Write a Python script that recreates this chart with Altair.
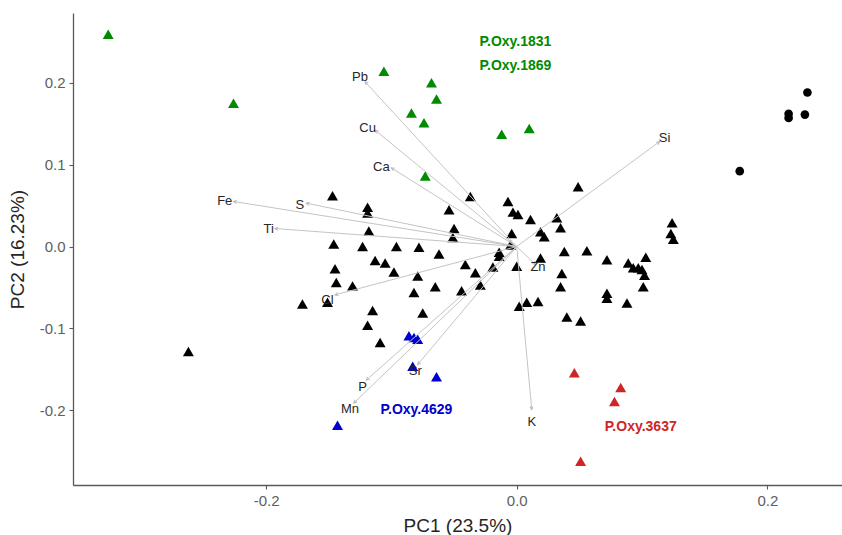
import altair as alt
import pandas as pd

# ---- sample scores (PC1, PC2) ----
black_tri_x = [-0.262, -0.171, -0.151, -0.147, -0.119, -0.119, -0.118, -0.146, -0.123, -0.113,
               -0.105, -0.145, -0.144, -0.131, -0.115, -0.098, -0.079, -0.082, -0.065, -0.044,
               -0.029, -0.075, -0.119, -0.109, -0.041, -0.033, -0.019, 0.000, 0.019, 0.036,
               0.035, 0.002, 0.008, 0.017, 0.040, 0.051, -0.037, -0.054, -0.050, -0.051,
               -0.096, -0.078, -0.062, -0.007, -0.003, 0.001, 0.011, -0.004, -0.014, -0.014,
               0.019, 0.022, 0.032, 0.035, 0.049, 0.038, 0.056, 0.072, 0.124, 0.123,
               0.125, 0.089, 0.093, 0.097, 0.100, 0.103, 0.102, 0.101, 0.072, 0.072,
               0.088, -0.005]
black_tri_y = [-0.128, -0.070, -0.068, 0.062, 0.048, 0.041, 0.019, 0.003, 0.000, -0.017,
               -0.020, -0.027, -0.044, -0.048, -0.078, -0.031, -0.036, -0.056, -0.049, -0.054,
               -0.047, -0.081, -0.096, -0.117, -0.022, -0.032, -0.025, -0.024, -0.014, -0.033,
               -0.049, -0.073, -0.068, -0.067, -0.086, -0.091, 0.061, 0.045, 0.022, 0.011,
               0.000, -0.001, -0.009, 0.055, 0.042, 0.039, 0.033, 0.016, -0.007, -0.012,
               0.018, 0.012, 0.035, 0.023, 0.073, -0.006, -0.005, -0.016, 0.029, 0.016,
               0.009, -0.020, -0.026, -0.026, -0.028, -0.013, -0.035, -0.049, -0.057, -0.063,
               -0.069, 0.002]

black_circ_x = [0.232, 0.217, 0.217, 0.230, 0.178]
black_circ_y = [0.188, 0.162, 0.157, 0.161, 0.092]

green_x = [-0.326, -0.226, -0.106, -0.068, -0.064, -0.084, -0.074, -0.012, 0.010, -0.073]
green_y = [0.259, 0.175, 0.214, 0.200, 0.180, 0.163, 0.151, 0.137, 0.144, 0.086]

red_x = [0.046, 0.083, 0.078, 0.051]
red_y = [-0.154, -0.172, -0.189, -0.262]

blue_x = [-0.086, -0.082, -0.079, -0.083, -0.064, -0.143]
blue_y = [-0.109, -0.111, -0.113, -0.146, -0.159, -0.218]

# ---- variable loadings (arrow tips) and their label positions ----
var_names = ["Pb", "Cu", "Ca", "Fe", "S", "Ti", "Cl", "P", "Mn", "Sr", "K", "Zn", "Si"]
var_x = [-0.121, -0.113, -0.100, -0.226, -0.168, -0.193, -0.145, -0.120, -0.130, -0.079, 0.012, 0.015, 0.114]
var_y = [0.201, 0.142, 0.096, 0.055, 0.053, 0.022, -0.059, -0.163, -0.191, -0.144, -0.199, -0.022, 0.128]
lab_x = [-0.125, -0.119, -0.108, -0.233, -0.173, -0.198, -0.151, -0.123, -0.133, -0.081, 0.012, 0.017, 0.118]
lab_y = [0.207, 0.145, 0.097, 0.055, 0.051, 0.022, -0.065, -0.172, -0.198, -0.152, -0.214, -0.025, 0.133]

# ---- group annotations ----
grp_text = ["P.Oxy.1831", "P.Oxy.1869", "P.Oxy.4629", "P.Oxy.3637"]
grp_x = [-0.001, -0.001, -0.080, 0.099]
grp_y = [0.250, 0.220, -0.199, -0.220]
grp_col = ["#008B00", "#008B00", "#0000CD", "#CD2626"]

# ---- layout ----
X_DOM = [-0.3541, 0.2596]
Y_DOM = [-0.291, 0.285]
W, H = 769, 472
SX = W / (X_DOM[1] - X_DOM[0])
SY = H / (Y_DOM[1] - Y_DOM[0])
FONT = "Liberation Sans"

rows = []
for x, y in zip(black_tri_x, black_tri_y):
    rows.append(dict(x=x, y=y, shape="triangle-up", color="#000000", sz=120))
for x, y in zip(black_circ_x, black_circ_y):
    rows.append(dict(x=x, y=y, shape="circle", color="#000000", sz=75))
for x, y in zip(green_x, green_y):
    rows.append(dict(x=x, y=y, shape="triangle-up", color="#008B00", sz=120))
for x, y in zip(red_x, red_y):
    rows.append(dict(x=x, y=y, shape="triangle-up", color="#CD2626", sz=120))
for x, y in zip(blue_x, blue_y):
    rows.append(dict(x=x, y=y, shape="triangle-up", color="#0000CD", sz=120))
pts = pd.DataFrame(rows)

load = pd.DataFrame(dict(name=var_names, x=var_x, y=var_y, lx=lab_x, ly=lab_y))
grp = pd.DataFrame(dict(text=grp_text, x=grp_x, y=grp_y, col=grp_col))

lab_expr = "datum.value < 0 ? '-' + format(-datum.value, '.1f') : format(datum.value, '.1f')"

xscale = alt.Scale(domain=X_DOM, nice=False, zero=False)
yscale = alt.Scale(domain=Y_DOM, nice=False, zero=False)

xenc = alt.X("x:Q", scale=xscale,
             axis=alt.Axis(values=[-0.2, 0.0, 0.2], labelExpr=lab_expr, title="PC1 (23.5%)"))
yenc = alt.Y("y:Q", scale=yscale,
             axis=alt.Axis(values=[-0.2, -0.1, 0.0, 0.1, 0.2], labelExpr=lab_expr, title="PC2 (16.23%)"))

points = alt.Chart(pts).mark_point(filled=True, opacity=1, strokeWidth=0).encode(
    x=xenc, y=yenc,
    shape=alt.Shape("shape:N", scale=None),
    color=alt.Color("color:N", scale=None),
    size=alt.Size("sz:Q", scale=None),
)

arrows = alt.Chart(load).transform_calculate(x0="0", y0="0").mark_rule(
    color="#c4c4c4", strokeWidth=1
).encode(
    x=alt.X("x0:Q", scale=xscale), y=alt.Y("y0:Q", scale=yscale),
    x2="x:Q", y2="y:Q",
)

heads = alt.Chart(load).transform_calculate(
    ang=f"(atan2(datum.x * {SX:.3f}, datum.y * {SY:.3f}) * 180 / PI + 360) % 360"
).mark_point(
    shape="M-0.7,1.4L0,0L0.7,1.4", filled=False, color="#b8b8b8", strokeWidth=1, size=20, opacity=1
).encode(
    x=alt.X("x:Q", scale=xscale), y=alt.Y("y:Q", scale=yscale),
    angle=alt.Angle("ang:Q", scale=None),
)

var_labels = alt.Chart(load).mark_text(
    font=FONT, fontSize=13, color="#262626"
).encode(
    x=alt.X("lx:Q", scale=xscale), y=alt.Y("ly:Q", scale=yscale), text="name:N"
)

grp_labels = alt.Chart(grp).mark_text(
    font=FONT, fontSize=14, fontWeight="bold"
).encode(
    x=alt.X("x:Q", scale=xscale), y=alt.Y("y:Q", scale=yscale), text="text:N",
    color=alt.Color("col:N", scale=None),
)

chart = alt.layer(points, arrows, heads, var_labels, grp_labels).properties(
    width=W, height=H,
    autosize=alt.AutoSizeParams(type="none"),
    padding={"left": 73, "top": 13, "right": 0, "bottom": 50},
    background="white",
).configure_view(stroke=None).configure_axis(
    grid=False,
    domainColor="#595959", domainWidth=1.3,
    tickColor="#595959", tickWidth=1.1, tickSize=4,
    labelFont=FONT, labelFontSize=15, labelColor="#5e5e5e", labelPadding=4,
    titleFont=FONT, titleFontSize=19, titleFontWeight="normal", titleColor="#262626",
).configure_axisX(titlePadding=8).configure_axisY(titlePadding=12)

chart.save("out.html", embed_options={"renderer": "svg", "actions": False})
